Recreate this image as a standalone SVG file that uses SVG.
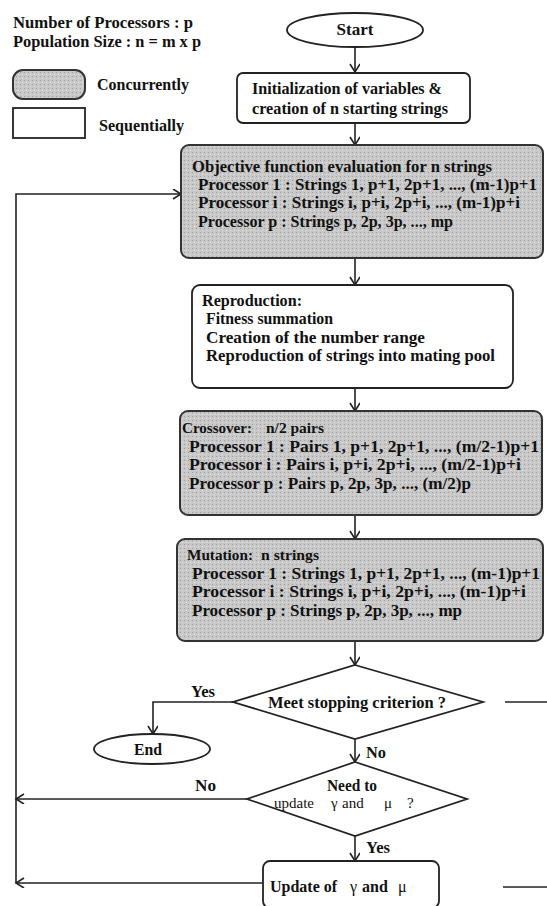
<svg xmlns="http://www.w3.org/2000/svg" width="547" height="906" viewBox="0 0 547 906">
<style>
text{font-family:"Liberation Serif","Times New Roman",serif;font-weight:bold;font-size:16px;fill:#111}
.box{fill:#fff;stroke:#222;stroke-width:1.8}
.gbox{fill:url(#dots);stroke:#333;stroke-width:2}
.ln{fill:none;stroke:#222;stroke-width:1.6}
.gr{font-weight:normal;font-size:15px}
.tt{font-size:15px}
</style>
<defs>
<pattern id="dots" width="4" height="4" patternUnits="userSpaceOnUse">
<rect width="4" height="4" fill="#c8c8c8"/>
<rect x="0" y="0" width="1" height="1" fill="#a0a0a0"/>
<rect x="2" y="2" width="1" height="1" fill="#e2e2e2"/>
</pattern>
<marker id="ah" markerWidth="12" markerHeight="12" refX="9" refY="5" orient="auto" markerUnits="userSpaceOnUse">
<path d="M1,0 L9,5 L1,10" fill="none" stroke="#222" stroke-width="1.6"/>
</marker>
</defs>
<rect width="547" height="906" fill="#fff"/>

<g id="legend">
<text x="13" y="28" textLength="180" lengthAdjust="spacingAndGlyphs">Number of Processors : p</text>
<text x="13" y="47" textLength="188" lengthAdjust="spacingAndGlyphs">Population Size : n = m x p</text>
<rect x="13" y="70" width="72" height="29" rx="10" class="gbox" stroke-width="1.5"/>
<text x="97" y="90" textLength="92" lengthAdjust="spacingAndGlyphs">Concurrently</text>
<rect x="13" y="108" width="72" height="30" class="box" stroke-width="1.5"/>
<text x="99" y="131" textLength="85" lengthAdjust="spacingAndGlyphs">Sequentially</text>
</g>

<g id="connectors">
<line x1="355" y1="47" x2="355" y2="72" class="ln" marker-end="url(#ah)"/>
<line x1="355" y1="123" x2="355" y2="145" class="ln" marker-end="url(#ah)"/>
<line x1="355" y1="258" x2="355" y2="285" class="ln" marker-end="url(#ah)"/>
<line x1="355" y1="388" x2="355" y2="411" class="ln" marker-end="url(#ah)"/>
<line x1="355" y1="515" x2="355" y2="539" class="ln" marker-end="url(#ah)"/>
<line x1="355" y1="641" x2="355" y2="665" class="ln" marker-end="url(#ah)"/>
<polyline points="233,702 153,702 153,734" class="ln" marker-end="url(#ah)"/>
<line x1="355" y1="739" x2="355" y2="762" class="ln" marker-end="url(#ah)"/>
<line x1="247" y1="799" x2="16" y2="799" class="ln" marker-end="url(#ah)"/>
<line x1="355" y1="836" x2="355" y2="861" class="ln" marker-end="url(#ah)"/>
<line x1="263" y1="883" x2="16" y2="883" class="ln" marker-end="url(#ah)"/>
<polyline points="16,883 16,194 181,194" class="ln" marker-end="url(#ah)"/>
<line x1="505" y1="702" x2="547" y2="702" class="ln"/>
<line x1="503" y1="887" x2="547" y2="887" class="ln"/>
<text x="191" y="697" textLength="24" lengthAdjust="spacingAndGlyphs">Yes</text>
<text x="366" y="758" textLength="20" lengthAdjust="spacingAndGlyphs">No</text>
<text x="195" y="791" textLength="21" lengthAdjust="spacingAndGlyphs">No</text>
<text x="366" y="853" textLength="24" lengthAdjust="spacingAndGlyphs">Yes</text>
</g>

<g id="start">
<ellipse cx="355" cy="30" rx="68" ry="17" class="box"/>
<text x="355" y="35" text-anchor="middle" textLength="37" lengthAdjust="spacingAndGlyphs">Start</text>
</g>

<g id="init">
<rect x="237" y="73" width="233" height="50" rx="6" class="box"/>
<text x="252" y="94" textLength="190" lengthAdjust="spacingAndGlyphs">Initialization of variables &amp;</text>
<text x="252" y="114" textLength="196" lengthAdjust="spacingAndGlyphs">creation of n starting strings</text>
</g>

<g id="objective">
<rect x="181" y="145" width="362" height="113" rx="8" class="gbox"/>
<text x="192" y="172" textLength="300" lengthAdjust="spacingAndGlyphs">Objective function evaluation for n strings</text>
<text x="198" y="190" textLength="339" lengthAdjust="spacingAndGlyphs">Processor 1 : Strings 1, p+1, 2p+1, ..., (m-1)p+1</text>
<text x="198" y="208" textLength="322" lengthAdjust="spacingAndGlyphs">Processor i : Strings i, p+i, 2p+i, ..., (m-1)p+i</text>
<text x="198" y="227" textLength="255" lengthAdjust="spacingAndGlyphs">Processor p : Strings p, 2p, 3p, ..., mp</text>
</g>

<g id="reproduction">
<rect x="192" y="285" width="321" height="103" rx="8" class="box"/>
<text x="202" y="306" textLength="100" lengthAdjust="spacingAndGlyphs">Reproduction:</text>
<text x="206" y="324" textLength="127" lengthAdjust="spacingAndGlyphs">Fitness summation</text>
<text x="206" y="343" textLength="219" lengthAdjust="spacingAndGlyphs">Creation of the number range</text>
<text x="206" y="361" textLength="289" lengthAdjust="spacingAndGlyphs">Reproduction of strings into mating pool</text>
</g>

<g id="crossover">
<rect x="180" y="411" width="362" height="104" rx="8" class="gbox"/>
<text x="182" y="433" class="tt" textLength="70" lengthAdjust="spacingAndGlyphs">Crossover:</text>
<text x="266" y="433" class="tt" textLength="58" lengthAdjust="spacingAndGlyphs">n/2 pairs</text>
<text x="189" y="452" textLength="350" lengthAdjust="spacingAndGlyphs">Processor 1 : Pairs 1, p+1, 2p+1, ..., (m/2-1)p+1</text>
<text x="189" y="470" textLength="332" lengthAdjust="spacingAndGlyphs">Processor i : Pairs i, p+i, 2p+i, ..., (m/2-1)p+i</text>
<text x="189" y="489" textLength="282" lengthAdjust="spacingAndGlyphs">Processor p : Pairs p, 2p, 3p, ..., (m/2)p</text>
</g>

<g id="mutation">
<rect x="177" y="539" width="366" height="102" rx="8" class="gbox"/>
<text x="187" y="560" class="tt" textLength="66" lengthAdjust="spacingAndGlyphs">Mutation:</text>
<text x="261" y="560" class="tt" textLength="58" lengthAdjust="spacingAndGlyphs">n strings</text>
<text x="192" y="579" textLength="348" lengthAdjust="spacingAndGlyphs">Processor 1 : Strings 1, p+1, 2p+1, ..., (m-1)p+1</text>
<text x="192" y="597" textLength="334" lengthAdjust="spacingAndGlyphs">Processor i : Strings i, p+i, 2p+i, ..., (m-1)p+i</text>
<text x="192" y="616" textLength="270" lengthAdjust="spacingAndGlyphs">Processor p : Strings p, 2p, 3p, ..., mp</text>
</g>

<g id="stop">
<polygon points="355,665 483,702 355,739 233,702" class="box"/>
<text x="357" y="708" text-anchor="middle" textLength="178" lengthAdjust="spacingAndGlyphs">Meet stopping criterion ?</text>
</g>

<g id="end">
<ellipse cx="152" cy="749" rx="58" ry="15" class="box"/>
<text x="148" y="755" text-anchor="middle" textLength="28" lengthAdjust="spacingAndGlyphs">End</text>
</g>

<g id="needupdate">
<polygon points="355,762 467,799 355,836 247,799" class="box"/>
<text x="352" y="791" text-anchor="middle" font-size="15" textLength="50" lengthAdjust="spacingAndGlyphs">Need to</text>
<text y="808" class="gr"><tspan x="274">update</tspan><tspan x="331">γ</tspan><tspan x="342">and</tspan><tspan x="384">μ</tspan><tspan x="407">?</tspan></text>
</g>

<g id="update">
<rect x="263" y="861" width="176" height="47" rx="7" class="box"/>
<text y="892"><tspan x="270">Update of</tspan><tspan x="350" font-weight="normal">γ</tspan><tspan x="362">and</tspan><tspan x="398" font-weight="normal">μ</tspan></text>
</g>
</svg>
